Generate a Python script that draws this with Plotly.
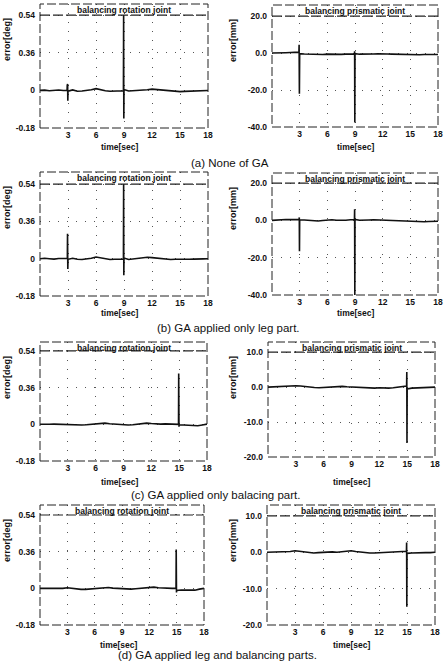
import plotly.graph_objects as go

W, H = 444, 668

# ---------------- data ----------------
TIME_TICKS = [3, 6, 9, 12, 15, 18]
ROT_TICK_POS = [-0.18, 0.0, 0.18, 0.36]
ROT_TICK_TEXT = ["-0.18", "0", "0.36", "0.54"]
PRI_TICK_POS_AB = [-40, -20, 0, 20]
PRI_TICK_TEXT_AB = ["-40.0", "-20.0", "0.0", "20.0"]
PRI_TICK_POS_CD = [-20, -10, 0, 10]
PRI_TICK_TEXT_CD = ["-20.0", "-10.0", "0.0", "10.0"]

CAPTIONS = ["(a) None of GA", "(b) GA applied only leg part.",
            "(c) GA applied only balacing part.", "(d) GA applied leg and balancing parts."]
PANEL_TITLES = ["balancing rotation joint", "balancing prismatic joint"]
Y_TITLES = ["error[deg]", "error[mm]"]
X_TITLE = "time[sec]"

# sampled every 0.5 s from 0 to 18 s
T_GRID = [0, 0.5, 1, 1.5, 2, 2.5, 3, 3.5, 4, 4.5, 5, 5.5, 6, 6.5, 7, 7.5, 8, 8.5, 9,
          9.5, 10, 10.5, 11, 11.5, 12, 12.5, 13, 13.5, 14, 14.5, 15, 15.5, 16, 16.5, 17, 17.5, 18]

A_ROT_BASE = [0.0, 0.001, -0.002, 0.0, 0.002, -0.001, -0.004, 0.002, -0.004, -0.003,
              -0.001, 0.003, 0.008, 0.002, -0.002, -0.004, -0.003, -0.002, 0.004,
              -0.003, -0.002, 0.0, 0.002, 0.003, 0.006, 0.004, 0.001, -0.002, -0.004,
              -0.005, -0.006, -0.005, -0.004, -0.004, -0.003, -0.002, -0.001]
A_ROT_SPIKE_T = [2.9, 2.92, 2.94, 2.96, 2.98, 8.94, 8.96, 8.98]
A_ROT_SPIKE_V = [0.0, 0.025, -0.03, 0.03, -0.05, -0.002, 0.36, -0.135]

A_PRI_BASE = [0.0, 0.2, 0.3, 0.2, 0.3, 0.5, -0.3, -0.5, -0.6, -0.5, -0.7, -0.8, -0.6,
              -0.5, -0.6, -0.7, -0.6, -0.5, -0.3, -0.6, -0.7, -0.6, -0.5, -0.4, -0.3,
              -0.5, -0.6, -0.7, -0.8, -0.8, -0.7, -0.8, -0.9, -0.8, -0.8, -0.9, -0.8]
A_PRI_SPIKE_T = [2.92, 2.94, 2.97, 8.94, 8.96, 8.98]
A_PRI_SPIKE_V = [0.5, 4.5, -22.0, -0.5, 1.0, -37.5]

B_ROT_BASE = [0.0, 0.002, 0.0, -0.002, 0.001, 0.002, -0.003, 0.002, -0.003, -0.004,
              -0.002, 0.002, 0.008, 0.003, -0.002, -0.004, -0.003, -0.002, 0.003,
              -0.004, -0.002, 0.0, 0.003, 0.007, 0.005, 0.002, -0.001, -0.003, -0.004,
              -0.003, -0.004, -0.005, -0.003, -0.002, -0.003, -0.001, 0.0]
B_ROT_SPIKE_T = [2.93, 2.95, 2.98, 8.94, 8.96, 8.98]
B_ROT_SPIKE_V = [0.002, 0.12, -0.05, -0.002, 0.36, -0.08]

B_PRI_BASE = [0.0, 0.3, 0.4, 0.5, 0.4, 0.5, 0.3, 0.2, 0.0, -0.2, -0.3, -0.1, 0.2, 0.3,
              0.1, 0.0, 0.1, 0.3, 0.5, 0.1, 0.0, 0.2, 0.3, 0.2, 0.1, 0.0, -0.2, -0.3,
              -0.4, -0.5, -0.8, -0.7, -0.6, -0.7, -0.6, -0.5, -0.5]
B_PRI_SPIKE_T = [2.94, 2.96, 2.98, 8.94, 8.96, 8.98]
B_PRI_SPIKE_V = [0.5, 1.6, -16.5, 0.3, 6.0, -40.0]

C_ROT_BASE = [0.0, -0.001, 0.0, 0.001, 0.0, -0.002, -0.002, -0.003, -0.002, -0.003,
              -0.002, 0.0, 0.002, 0.005, 0.006, 0.003, 0.001, -0.001, -0.002, -0.003,
              -0.002, 0.0, 0.003, 0.006, 0.004, 0.002, 0.001, 0.002, 0.001, 0.0,
              -0.002, -0.003, -0.005, -0.008, -0.007, -0.003, 0.001]
C_ROT_SPIKE_T = [14.93, 14.95, 14.98]
C_ROT_SPIKE_V = [0.0, 0.25, -0.012]

C_PRI_BASE = [0.0, 0.1, 0.0, 0.1, 0.2, 0.3, 0.4, 0.3, 0.1, 0.0, -0.1, -0.2, -0.1, 0.0,
              0.1, 0.1, 0.2, 0.1, 0.0, -0.1, -0.2, -0.2, -0.3, -0.3, -0.2, -0.3, -0.3,
              -0.2, 0.0, 0.3, -0.5, -0.3, -0.2, -0.2, -0.1, -0.1, 0.0]
C_PRI_SPIKE_T = [14.94, 14.96, 14.98]
C_PRI_SPIKE_V = [0.3, 4.3, -16.0]

D_ROT_BASE = [0.0, 0.0, -0.001, 0.0, 0.001, 0.0, 0.003, 0.0, -0.002, -0.005, -0.005,
              -0.003, 0.0, 0.003, 0.005, 0.004, 0.001, -0.001, -0.002, -0.003, -0.004,
              -0.002, 0.0, 0.002, 0.004, 0.006, 0.003, 0.001, -0.001, 0.0, -0.01,
              -0.008, -0.009, -0.008, -0.009, -0.004, 0.0]
D_ROT_SPIKE_T = [14.93, 14.95, 14.98]
D_ROT_SPIKE_V = [0.0, 0.19, -0.02]

D_PRI_BASE = [0.0, 0.0, 0.1, 0.0, 0.0, 0.2, 0.4, 0.2, 0.0, -0.1, -0.2, -0.1, 0.0, 0.0,
              0.1, 0.0, 0.1, 0.3, 0.4, 0.2, 0.0, -0.1, -0.2, -0.2, -0.1, -0.2, -0.1,
              0.0, 0.1, 0.2, -0.3, -0.2, -0.1, -0.2, -0.1, -0.1, 0.0]
D_PRI_SPIKE_T = [14.94, 14.96, 14.98]
D_PRI_SPIKE_V = [0.2, 2.7, -15.0]

SERIES = [
    (A_ROT_BASE, A_ROT_SPIKE_T, A_ROT_SPIKE_V),
    (A_PRI_BASE, A_PRI_SPIKE_T, A_PRI_SPIKE_V),
    (B_ROT_BASE, B_ROT_SPIKE_T, B_ROT_SPIKE_V),
    (B_PRI_BASE, B_PRI_SPIKE_T, B_PRI_SPIKE_V),
    (C_ROT_BASE, C_ROT_SPIKE_T, C_ROT_SPIKE_V),
    (C_PRI_BASE, C_PRI_SPIKE_T, C_PRI_SPIKE_V),
    (D_ROT_BASE, D_ROT_SPIKE_T, D_ROT_SPIKE_V),
    (D_PRI_BASE, D_PRI_SPIKE_T, D_PRI_SPIKE_V),
]

# ---------------- layout (pixel boxes: left, right, top, bottom) ----------------
BOXES = [
    (40, 208, 4, 128), (272, 438, 5, 127),
    (40, 208, 172, 296), (272, 438, 173, 295),
    (40, 207, 342, 461), (268, 435, 342, 457),
    (40, 204, 505, 625), (267, 435, 505, 625),
]
Y_TOPS = [0.413, 26.0, 0.418, 25.4, 0.404, 12.9, 0.409, 13.0]
CAPTION_POS = [(230, 163), (228, 328), (215, 495), (217, 655)]
XT_Y = [147, 313, 482, 645]

FAM = "Liberation Sans Narrow, Arial Narrow, Liberation Sans, Arial"
TICK_FONT = dict(family=FAM, size=8.5, color="#111", weight="bold")
TEXT_FONT = dict(family=FAM, size=8.5, color="#111", weight="bold")
YT_FONT = dict(family=FAM, size=9, color="#111", weight="bold")
CAP_FONT = dict(family="Liberation Sans, Arial", size=11.5, color="#111")

fig = go.Figure()
shapes, annotations = [], []

for i, (base, st, sv) in enumerate(SERIES):
    n = "" if i == 0 else str(i + 1)
    pts = sorted(zip(T_GRID + st, base + sv))
    fig.add_trace(go.Scatter(x=[p[0] for p in pts], y=[p[1] for p in pts],
                             xaxis="x" + n, yaxis="y" + n, mode="lines",
                             line=dict(color="#111", width=1.6), showlegend=False,
                             hoverinfo="skip"))
    l, r, t, b = BOXES[i]
    row = i // 2
    rot = (i % 2 == 0)
    if rot:
        tp, tt = ROT_TICK_POS, ROT_TICK_TEXT
    elif row < 2:
        tp, tt = PRI_TICK_POS_AB, PRI_TICK_TEXT_AB
    else:
        tp, tt = PRI_TICK_POS_CD, PRI_TICK_TEXT_CD
    fig.layout["xaxis" + n] = dict(
        domain=[l / W, r / W], range=[0, 18], tickvals=TIME_TICKS, anchor="y" + n,
        showgrid=True, gridcolor="#555", griddash="1px,8px", gridwidth=1,
        zeroline=False, showline=False, ticks="", tickfont=TICK_FONT,
        automargin=False, fixedrange=True, ticklabelstandoff=0)
    fig.layout["yaxis" + n] = dict(
        domain=[1 - b / H, 1 - t / H], range=[tp[0], Y_TOPS[i]], tickvals=tp,
        ticktext=tt, anchor="x" + n, showgrid=True, gridcolor="#555",
        griddash="1px,8px", gridwidth=1, zeroline=False, showline=False, ticks="",
        tickfont=TICK_FONT, automargin=False, fixedrange=True, ticklabelstandoff=4)
    # frame
    shapes.append(dict(type="rect", xref="x" + n + " domain", yref="y" + n + " domain",
                       x0=0, x1=1, y0=0, y1=1,
                       line=dict(color="#222", width=1, dash="9px,3px")))
    # dark dashed line at top tick
    shapes.append(dict(type="line", xref="x" + n + " domain", yref="y" + n,
                       x0=0, x1=1, y0=tp[-1], y1=tp[-1],
                       line=dict(color="#222", width=1.2, dash="10px,3px")))
    # panel title
    annotations.append(dict(text=PANEL_TITLES[i % 2], x=(l + r) / 2 / W,
                            y=1 - (t + 6) / H, xref="paper", yref="paper",
                            showarrow=False, font=TEXT_FONT, xanchor="center",
                            yanchor="middle"))
    # y title
    annotations.append(dict(text=Y_TITLES[i % 2], x=(7 if rot else 233) / W,
                            y=1 - (t + 36) / H, xref="paper", yref="paper",
                            showarrow=False, font=YT_FONT, textangle=-90,
                            xanchor="center", yanchor="middle"))
    # x title
    annotations.append(dict(text=X_TITLE, x=(l + r) / 2 / W - (4 if rot else 0) / W,
                            y=1 - XT_Y[row] / H, xref="paper", yref="paper",
                            showarrow=False, font=TEXT_FONT, xanchor="center",
                            yanchor="middle"))

for k, cap in enumerate(CAPTIONS):
    cx, cy = CAPTION_POS[k]
    annotations.append(dict(text=cap, x=cx / W, y=1 - cy / H, xref="paper",
                            yref="paper", showarrow=False, font=CAP_FONT,
                            xanchor="center", yanchor="middle"))

fig.update_layout(width=W, height=H, margin=dict(l=0, r=0, t=0, b=0),
                  paper_bgcolor="white", plot_bgcolor="white", template="none",
                  shapes=shapes, annotations=annotations, showlegend=False)

fig.write_html("out.html", config={"displayModeBar": False})
